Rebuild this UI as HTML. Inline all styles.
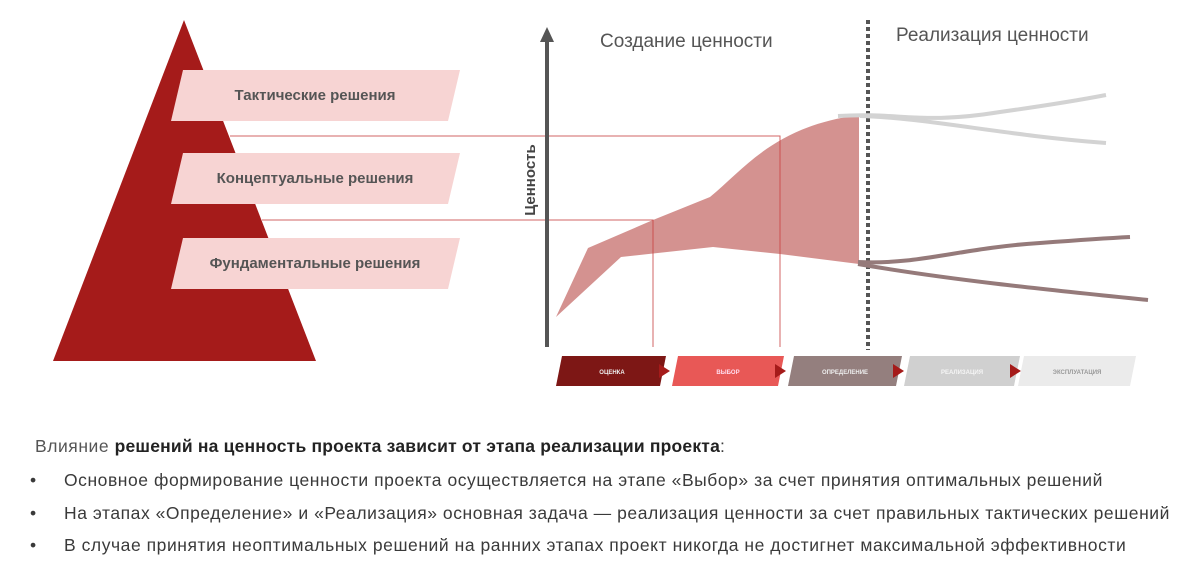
<!DOCTYPE html>
<html><head><meta charset="utf-8"><style>
body{margin:0;width:1200px;height:571px;background:#fff;overflow:hidden;font-family:"Liberation Sans",sans-serif}
.t{position:absolute;font-size:17.5px;letter-spacing:0.55px;color:#3a3a3a;white-space:nowrap}
</style></head><body>
<svg width="1200" height="420" style="position:absolute;left:0;top:0">
<polygon points="184,20 53,361 316,361" fill="#a51b1a"/>
<g fill="#f7d4d3">
<polygon points="183,70 460,70 448,121 171,121"/>
<polygon points="183,153 460,153 448,204 171,204"/>
<polygon points="183,238 460,238 448,289 171,289"/>
</g>
<g font-family="Liberation Sans" font-weight="bold" font-size="15" fill="#555" text-anchor="middle">
<text x="315" y="100">Тактические решения</text>
<text x="315" y="183">Концептуальные решения</text>
<text x="315" y="268">Фундаментальные решения</text>
</g>
<path d="M556,317 L588,248 L653,220 L710,197 C745,168 775,126 859,115 L859,264 L780,254 L713,247 L621,257 Z" fill="#d49290"/>
<g stroke="#c8403e" stroke-width="1" fill="none" opacity="0.8">
<polyline points="230,136 780,136 780,347"/>
<polyline points="262,220 653,220 653,347"/>
</g>
<line x1="547" y1="40" x2="547" y2="347" stroke="#555" stroke-width="4"/>
<polygon points="540,42 547,27 554,42" fill="#555"/>
<text x="535" y="180" transform="rotate(-90 535 180)" font-size="15" font-weight="bold" fill="#444" text-anchor="middle">Ценность</text>
<text x="600" y="47" font-size="19" fill="#555">Создание ценности</text>
<text x="896" y="41" font-size="19" fill="#555">Реализация ценности</text>
<line x1="868" y1="20" x2="868" y2="350" stroke="#555" stroke-width="4" stroke-dasharray="4,3"/>
<g fill="none" stroke-width="4">
<path d="M838,116 C900,112 920,125 1000,112 C1050,105 1080,100 1106,95" stroke="#d3d3d3"/>
<path d="M860,116 C930,118 1000,135 1106,143" stroke="#d3d3d3"/>
<path d="M858,262 C920,265 960,248 1040,243 C1080,240 1110,238 1130,237" stroke="#957a7a"/>
<path d="M858,264 C950,280 1050,290 1148,300" stroke="#957a7a"/>
</g>
<g font-size="6" font-weight="bold" text-anchor="middle">
<polygon points="562,356 666,356 660,386 556,386" fill="#7d1715"/><text x="612" y="374" fill="#eee">ОЦЕНКА</text>
<polygon points="678,356 784,356 778,386 672,386" fill="#e85856"/><text x="728" y="374" fill="#fde">ВЫБОР</text>
<polygon points="794,356 902,356 896,386 788,386" fill="#947f7e"/><text x="845" y="374" fill="#eee">ОПРЕДЕЛЕНИЕ</text>
<polygon points="910,356 1020,356 1014,386 904,386" fill="#d0d0d0"/><text x="962" y="374" fill="#f5f5f5">РЕАЛИЗАЦИЯ</text>
<polygon points="1024,356 1136,356 1130,386 1018,386" fill="#ebebeb"/><text x="1077" y="374" fill="#999">ЭКСПЛУАТАЦИЯ</text>
<g fill="#a51b1a">
<polygon points="659,364 670,371 659,378"/><polygon points="775,364 786,371 775,378"/>
<polygon points="893,364 904,371 893,378"/><polygon points="1010,364 1021,371 1010,378"/>
</g></g>
</svg>
<div class="t" style="left:35px;top:436px"><span style="color:#555">Влияние</span> <b style="color:#222;letter-spacing:0.2px">решений на ценность проекта зависит от этапа реализации проекта</b>:</div>
<div class="t" style="left:30px;top:470px">•</div><div class="t" style="left:64px;top:470px">Основное формирование ценности проекта осуществляется на этапе «Выбор» за счет принятия оптимальных решений</div>
<div class="t" style="left:30px;top:503px">•</div><div class="t" style="left:64px;top:503px">На этапах «Определение» и «Реализация» основная задача — реализация ценности за счет правильных тактических решений</div>
<div class="t" style="left:30px;top:535px">•</div><div class="t" style="left:64px;top:535px">В случае принятия неоптимальных решений на ранних этапах проект никогда не достигнет максимальной эффективности</div>
</body></html>
